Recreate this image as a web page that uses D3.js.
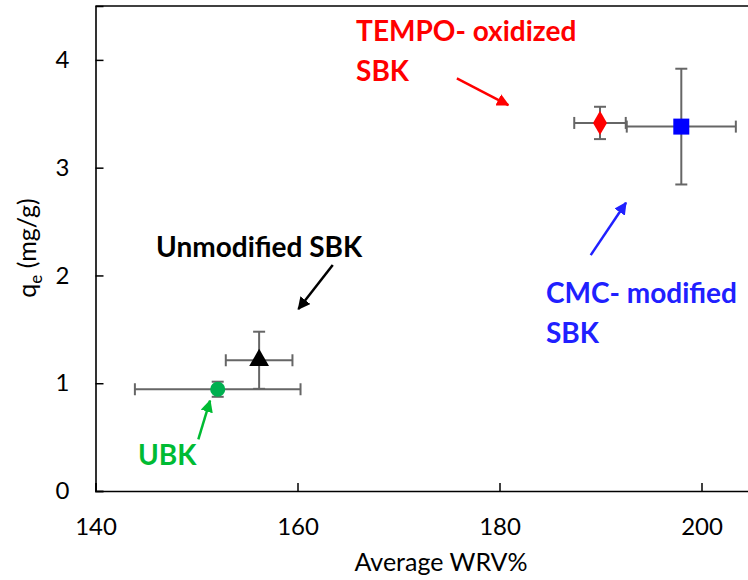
<!DOCTYPE html>
<html>
<head>
<meta charset="utf-8">
<script src="https://cdn.jsdelivr.net/npm/d3@7"></script>
<style>
  body { margin: 0; background: #fff; }
  svg { display: block; font-family: Lato, "Open Sans", sans-serif; }
</style>
</head>
<body>
<div id="chart"></div>
<script>
var width = 748,
    height = 580;

// samples
var samples = ["UBK", "Unmodified SBK", "TEMPO- oxidized SBK", "CMC- modified SBK"];
var wrv = [152.1, 156.2, 189.95, 198.0];
var wrvErr = [8.2, 3.3, 2.55, 5.4];
var qe = [0.944, 1.213, 3.415, 3.381];
var qeErr = [0.07, 0.265, 0.15, 0.537];
var colors = ["#00b050", "#000000", "#ff0000", "#0000ff"];
var shapes = [d3.symbolCircle, d3.symbolTriangle, d3.symbolDiamond, d3.symbolSquare];

var xTicks = [140, 160, 180, 200];
var yTicks = [0, 1, 2, 3, 4];

// annotation labels (data units) and arrows (tail -> tip)
var labelLines = [["UBK"], ["Unmodified SBK"], ["TEMPO- oxidized", "SBK"], ["CMC- modified", "SBK"]];
var labelAt = [[144.2, 0.241], [146.0, 2.173], [165.8, 4.177], [184.6, 1.747]];
var labelColors = ["#00bb33", "#000000", "#ff0000", "#2020ff"];
var arrowFrom = [[150.18, 0.48], [163.49, 2.096], [175.78, 3.828], [189.03, 2.189]];
var arrowTo = [[151.34, 0.838], [160.09, 1.688], [180.87, 3.581], [192.52, 2.674]];

var margin = {top: 6, right: -4, bottom: 89, left: 95.5};

var x = d3.scaleLinear()
    .domain([140, 205])
    .range([margin.left, margin.left + 65 * 10.1]);

var y = d3.scaleLinear()
    .domain([0, 4.5])
    .range([height - margin.bottom, margin.top]);

var svg = d3.select("#chart").append("svg")
    .attr("width", width)
    .attr("height", height);

var defs = svg.append("defs");
labelColors.forEach(function(c, i) {
  defs.append("marker")
    .attr("id", "arr" + i)
    .attr("viewBox", "0 0 10 10")
    .attr("refX", 9)
    .attr("refY", 5)
    .attr("markerWidth", 5)
    .attr("markerHeight", 5)
    .attr("markerUnits", "strokeWidth")
    .attr("orient", "auto")
    .append("path")
    .attr("d", "M0,0 L10,5 L0,10 z")
    .attr("fill", c);
});

// frame
svg.append("line")
  .attr("x1", x(140)).attr("x2", width + 10)
  .attr("y1", y(4.5)).attr("y2", y(4.5))
  .attr("stroke", "#000").attr("stroke-width", 1.5);

var xAxis = g => g
  .attr("transform", `translate(0,${y(0)})`)
  .call(d3.axisTop(x).tickValues(xTicks).tickSize(8).tickFormat(d3.format("d")))
  .call(g => g.select(".domain").attr("stroke-width", 1.6))
  .call(g => g.selectAll(".tick line").attr("stroke-width", 1.5))
  .call(g => g.selectAll(".tick text")
      .attr("y", 44)
      .attr("font-size", "24px")
      .attr("font-family", "Lato")
      .attr("fill", "#000"));

var yAxis = g => g
  .attr("transform", `translate(${x(140)},0)`)
  .call(d3.axisRight(y).tickValues(yTicks).tickSize(8).tickFormat(d3.format("d")))
  .call(g => g.select(".domain").attr("stroke-width", 1.6))
  .call(g => g.selectAll(".tick line").attr("stroke-width", 1.5))
  .call(g => g.selectAll(".tick text")
      .attr("x", -26)
      .attr("text-anchor", "end")
      .attr("font-size", "24px")
      .attr("font-family", "Lato")
      .attr("fill", "#000"));

svg.append("g").call(xAxis);
svg.append("g").call(yAxis);

// axis titles
svg.append("text")
  .attr("text-anchor", "middle")
  .attr("x", 441)
  .attr("y", 571)
  .attr("font-size", "25px")
  .attr("fill", "#000")
  .text("Average WRV%");

var yl = svg.append("text")
  .attr("text-anchor", "middle")
  .attr("transform", "translate(36,248) rotate(-90)")
  .attr("font-size", "25px")
  .attr("fill", "#000");
yl.append("tspan").text("q");
yl.append("tspan").attr("font-size", "17px").attr("dy", 6).text("e");
yl.append("tspan").attr("dy", -6).text(" (mg/g)");

// error bars
var cap = 6;
var bars = svg.append("g")
  .attr("stroke", "#666")
  .attr("stroke-width", 2)
  .attr("fill", "none");

samples.forEach(function(s, i) {
  var cx = x(wrv[i]), cy = y(qe[i]);
  var x0 = x(wrv[i] - wrvErr[i]), x1 = x(wrv[i] + wrvErr[i]);
  var y0 = y(qe[i] - qeErr[i]), y1 = y(qe[i] + qeErr[i]);
  bars.append("line").attr("x1", x0).attr("x2", x1).attr("y1", cy).attr("y2", cy);
  bars.append("line").attr("x1", x0).attr("x2", x0).attr("y1", cy - cap).attr("y2", cy + cap);
  bars.append("line").attr("x1", x1).attr("x2", x1).attr("y1", cy - cap).attr("y2", cy + cap);
  bars.append("line").attr("x1", cx).attr("x2", cx).attr("y1", y0).attr("y2", y1);
  bars.append("line").attr("x1", cx - cap).attr("x2", cx + cap).attr("y1", y0).attr("y2", y0);
  bars.append("line").attr("x1", cx - cap).attr("x2", cx + cap).attr("y1", y1).attr("y2", y1);
});

// markers
var sizes = [180, 170, 170, 256];
svg.selectAll(".pt")
  .data(samples).enter()
  .append("path")
  .attr("class", "pt")
  .attr("transform", (d, i) => `translate(${x(wrv[i])},${y(qe[i])})`)
  .attr("d", (d, i) => d3.symbol().type(shapes[i]).size(sizes[i])())
  .attr("fill", (d, i) => colors[i]);

// arrows
samples.forEach(function(s, i) {
  svg.append("line")
    .attr("x1", x(arrowFrom[i][0])).attr("y1", y(arrowFrom[i][1]))
    .attr("x2", x(arrowTo[i][0])).attr("y2", y(arrowTo[i][1]))
    .attr("stroke", labelColors[i])
    .attr("stroke-width", 2.5)
    .attr("marker-end", "url(#arr" + i + ")");
});

// labels
samples.forEach(function(s, i) {
  var t = svg.append("text")
    .attr("x", x(labelAt[i][0]))
    .attr("y", y(labelAt[i][1]))
    .attr("font-size", "28px")
    .attr("font-weight", "bold")
    .attr("fill", labelColors[i]);
  labelLines[i].forEach(function(l, j) {
    t.append("tspan")
      .attr("x", x(labelAt[i][0]))
      .attr("dy", j === 0 ? 0 : 40)
      .text(l);
  });
});
</script>
</body>
</html>
